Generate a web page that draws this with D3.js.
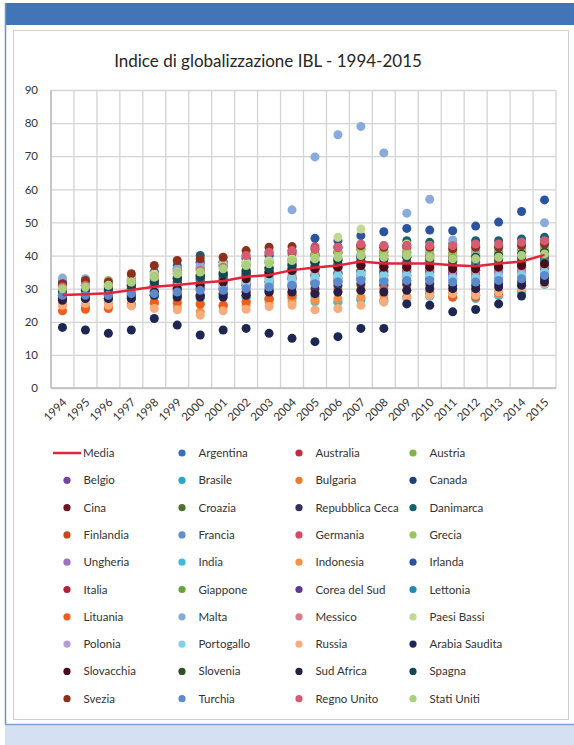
<!DOCTYPE html>
<html>
<head>
<meta charset="utf-8">
<script src="https://cdn.jsdelivr.net/npm/d3@7"></script>
<style>
  html, body { margin: 0; padding: 0; background: #ffffff; }
  svg { display: block; }
  text { font-family: Lato, "Open Sans", sans-serif; }
</style>
</head>
<body>
<svg id="chart" width="574" height="745"></svg>
<script>
// ---------------- DATA ----------------
const years = ["1994","1995","1996","1997","1998","1999","2000","2001","2002","2003","2004",
               "2005","2006","2007","2008","2009","2010","2011","2012","2013","2014","2015"];
const yTicks = [0,10,20,30,40,50,60,70,80,90];
const title = "Indice di globalizzazione IBL - 1994-2015";
const mediaLabel = "Media";
const media = [28.1,28.3,28.6,29.6,30.6,31.1,31.8,32.3,33.6,34.1,35.6,36.4,37.0,38.2,37.6,37.6,37.6,37.1,36.8,37.6,38.2,40.2];

const countries = ["Argentina","Australia","Austria","Belgio","Brasile","Bulgaria","Canada","Cina","Croazia",
  "Repubblica Ceca","Danimarca","Finlandia","Francia","Germania","Grecia","Ungheria","India","Indonesia",
  "Irlanda","Italia","Giappone","Corea del Sud","Lettonia","Lituania","Malta","Messico","Paesi Bassi",
  "Polonia","Portogallo","Russia","Arabia Saudita","Slovacchia","Slovenia","Sud Africa","Spagna","Svezia",
  "Turchia","Regno Unito","Stati Uniti"];

const countryColors = ["#3470BC","#C42A42","#80B548","#7446A2","#2AA6C6","#F07A2C","#22407A","#731624","#4D7232",
  "#3C2C60","#18606F","#C24A1E","#5F8FD0","#D24C68","#9EC460","#9C70C2","#40BAD8","#F59246",
  "#2B54A0","#B22039","#6AA33A","#5C3892","#2089AE","#F05C1A","#88AADC","#DC7C8A","#C2D890",
  "#B29ED2","#80D0E6","#F8AC7C","#1D2752","#4C0E16","#305222","#262048","#104854","#8E301C",
  "#5C8ACC","#D65C74","#AAD07E"];

const values = [
  /* Argentina */      [28,28,28.5,29,30,31,31,30,29,30,31,32,33,34,34,34,35,34,34,35,35,36],
  /* Australia */      [29,29.5,29.5,30,31,32,33,33,34,35,36,37,37.5,38.5,38,38,38.5,38,38,38.5,39,40],
  /* Austria */        [31,31.5,32,33,34.5,35.5,36,37,38,38.5,39,40,41,42,41.5,42,41.5,41,41.5,41.5,42,42.5],
  /* Belgio */         [30,30,30.5,31,32,33,34,35,35.5,36,37,38,39,40,40,40.5,40,39.5,40,40.5,41,41.5],
  /* Brasile */        [27,27.5,27,27.5,28,27,27.5,28,27.5,26.6,27,27.5,26,26.6,26.5,27.5,27.8,28.5,28,28,29,31.3],
  /* Bulgaria */       [25,24.5,24.5,25.5,25.5,25.5,25.5,25,26,27,28,29,30,31,31.5,31,30.5,29,29,29,30,32],
  /* Canada */         [31,31,31.5,32,33,33.5,34,34,34.5,35,35.5,36,36.5,37,37,37,37,36.5,36.5,37,37.5,38],
  /* Cina */           [27,27,27,27.5,28,28,28,28.5,29,29.5,30.5,31.5,32,33,32.5,32.5,33,33,33,33.5,34,35],
  /* Croazia */        [28.5,29,29,30,31,31.5,32.5,33,34,35,36,36.5,37,38,37.5,37.5,37.5,37,37,37.5,38,39],
  /* Repubblica Ceca */[27,27.5,27,27,28,28.5,28,28.5,28,29,29,30,31,31.5,31,31.5,31.5,31,31,31.5,32,33],
  /* Danimarca */      [30,30.5,30.5,32,35,37,40,37,37,38,38.5,40,41,43,43,44.5,44,43.5,44.5,44.5,45,45.5],
  /* Finlandia */      [30.5,31,31,32.5,34,36,38,38,39,40,40.5,40.5,41,42,41,41,40.5,40,40.5,40.5,41,41.5],
  /* Francia */        [29,29,29,29.5,29.5,30,30,30.5,31,31,31.5,32,32.5,33,33,34,34,33,33,33.5,34,35],
  /* Germania */       [30,30.5,30.5,31.5,33,35,36.5,37,39.5,41,41,42.7,42.5,43,42.5,42.5,42.5,42.5,43,43,43.5,44],
  /* Grecia */         [30.5,31,32.5,33.5,34.5,35.5,36,37,38,38.5,39,40,41,42,41,41,40.5,40,40.5,40.5,41,42],
  /* Ungheria */       [27.5,28,28,28.5,29,30,30.5,31,31.5,32,33,34,35,35.5,35,35,35,34.5,34.5,35,35.5,36],
  /* India */          [27,27,26.5,27,27.5,27.5,27,27.5,27,27,27.5,26,26,27,26,27,27.8,27.5,27,28,29,31.5],
  /* Indonesia */      [26,25,25.5,25,25.5,24.5,23,24.5,25,26,26,26.5,27,27.5,28,27.6,28.5,27.5,28,28.5,30,31.8],
  /* Irlanda */        [32,32,32,33,35,36,38,38,39,40,41.5,45.2,44.5,46,47.2,48.2,47.7,47.5,48.9,50.1,53.3,56.8],
  /* Italia */         [28.5,29,29,30,31,32,33,33.5,34.5,35,35.5,36,37,38,37.5,37.5,37.5,37,37,37.5,38,39],
  /* Giappone */       [28,28.5,28.5,29,30,30.5,31,31.5,32,33,33.5,34,34.5,35.5,35.5,36,36,35.5,35.5,36,36.5,37.5],
  /* Corea del Sud */  [27.5,27.5,28,28.5,29,29.5,30,30,31,32,33,34,34.5,35,35,35.5,35.5,35,35.5,36,36.5,37],
  /* Lettonia */       [28,28.5,28.5,29,30.5,31,32,32.5,33,34,35,36,36.5,37,36.5,37,37.5,37,37,37.5,38,38.5],
  /* Lituania */       [23.3,23.8,24,25,26,26,25.3,25,26,27,28,28.5,29,29.5,30,29.5,29,27.5,27.5,28.8,31,33],
  /* Malta */          [33.2,33,32,31,33,36,37,38,40,41,53.8,69.8,76.5,79,71,52.8,57,44.7,42,43,44,49.9],
  /* Messico */        [28,28.5,28.5,29,30,30.5,31,31.5,32.5,33.5,34,35,36,37,36.5,36,36,35.5,35.5,36,36,37],
  /* Paesi Bassi */    [31,31.5,32,33,34.5,35,35.5,37,38,38.5,39,39,45.5,48,43,43.5,43,43,42.5,43,43.5,44],
  /* Polonia */        [27,27.5,27.5,28,28.5,29,29.5,30,30.5,31,32,33,33.5,34.5,34,34,34,33.5,33.5,34,34.5,35],
  /* Portogallo */     [28.5,28.5,29,29.5,30,30.5,31,31.5,32,32.5,33,33.5,34,34.5,34,34,34,33,33,33.5,34,35],
  /* Russia */         [25,25.5,25,24.8,24,23.6,22,23.3,23.8,24.6,25,23.6,24,25,26,27,28,28.5,28,29,30,31.5],
  /* Arabia Saudita */ [18.3,17.5,16.5,17.5,21,19,16,17.5,18,16.5,15,14,15.5,18,18,25.4,25,23,23.7,25.4,27.8,33.4],
  /* Slovacchia */     [27,27.5,27.5,28,29,30,31,32,33,34.5,35.5,36,36.5,37,36.5,36.5,36.5,36,36,36.5,37,37.5],
  /* Slovenia */       [29,29.5,29.5,30.5,32,33,34,34.5,35.5,36.5,37.5,38,38.5,39.5,39,39.5,39,38.5,39,39,39.5,40.5],
  /* Sud Africa */     [26.5,27,27,27,28,27.5,27.5,27.5,28,29,29,28.5,29,29.5,29,29.5,30,30,30,30.5,31,32],
  /* Spagna */         [29.5,30,30,31,32,33,33.5,34.5,35,36,37,38,38.5,39.5,39,39.5,39.5,39,39.5,40,40.5,41],
  /* Svezia */         [31.5,32.5,32,34.5,37,38.5,39,39.5,41.5,42.5,42.7,42,42.5,43,42.5,43,42.5,42,42.5,42.5,43,43.5],
  /* Turchia */        [28,28,28,28.5,28.5,29,29.5,29.5,30,30.5,31,31.5,32,32.5,32,32.5,32.5,32,32,32.5,33,34],
  /* Regno Unito */    [30.5,31,31,32,33.5,34.5,35.5,36.5,40,41,41.5,42,42.5,43.5,43,43,43,43,43.5,43.5,44,44.5],
  /* Stati Uniti */    [30,30.5,31,32,33.5,34.5,35,36,37,37.5,38.5,39,39.5,40,39.5,40,39.5,39,39,39.5,40,40.5]
];

// ---------------- DRAW ----------------
const svg = d3.select("#chart");
const W = 574, H = 745;

// page decoration
svg.append("rect").attr("x", 5).attr("y", 3).attr("width", W - 5).attr("height", 22).attr("fill", "#4274B8");
svg.append("line").attr("x1", 5.5).attr("x2", 5.5).attr("y1", 3).attr("y2", 724).attr("stroke", "#6F93C8").attr("stroke-width", 1.5);
svg.append("rect").attr("x", 13.5).attr("y", 30.5).attr("width", 555).attr("height", 689)
   .attr("fill", "#ffffff").attr("stroke", "#D0D0D0").attr("stroke-width", 1);
svg.append("rect").attr("x", 5).attr("y", 724).attr("width", W - 5).attr("height", H - 724).attr("fill", "#D5E1F2");
svg.append("line").attr("x1", 5).attr("x2", W).attr("y1", 724.5).attr("y2", 724.5).attr("stroke", "#7EA2D2").attr("stroke-width", 1.5);

// title
svg.append("text").attr("x", 268).attr("y", 67).attr("text-anchor", "middle")
   .attr("font-size", 17).attr("fill", "#262626").text(title);

// scales
const plot = { left: 51, right: 556, top: 90, bottom: 388 };
const x = d3.scaleBand().domain(years).range([plot.left, plot.right]).padding(0);
const y = d3.scaleLinear().domain([0, 90]).range([plot.bottom, plot.top]);

const g = svg.append("g");

// horizontal gridlines + y labels via axis
const yAxis = d3.axisLeft(y).tickValues(yTicks).tickSize(-(plot.right - plot.left)).tickPadding(13);
const ya = g.append("g").attr("transform", `translate(${plot.left},0)`).call(yAxis);
ya.select(".domain").remove();
ya.selectAll(".tick line").attr("stroke", "#D4D4D4").attr("stroke-width", 1.3);
ya.selectAll(".tick text").attr("font-family", "Lato, sans-serif").attr("font-size", 11.5).attr("fill", "#333333");

// vertical gridlines at category boundaries
const bounds = years.map(d => x(d)).concat([x(years[years.length - 1]) + x.bandwidth()]);
g.append("g").selectAll("line").data(bounds).join("line")
  .attr("x1", d => d).attr("x2", d => d).attr("y1", plot.top).attr("y2", plot.bottom)
  .attr("stroke", "#D4D4D4").attr("stroke-width", 1.3);

// axis lines
g.append("line").attr("x1", plot.left).attr("x2", plot.right).attr("y1", y(0)).attr("y2", y(0))
  .attr("stroke", "#BDBDBD").attr("stroke-width", 1.5);
g.append("line").attr("x1", plot.left).attr("x2", plot.left).attr("y1", plot.top).attr("y2", plot.bottom)
  .attr("stroke", "#BDBDBD").attr("stroke-width", 1.5);

// x labels via axis
const xAxis = d3.axisBottom(x).tickSize(0).tickPadding(0);
const xa = g.append("g").attr("transform", `translate(0,${plot.bottom})`).call(xAxis);
xa.select(".domain").remove();
xa.selectAll(".tick text")
  .attr("font-family", "Lato, sans-serif").attr("font-size", 11.5).attr("fill", "#333333")
  .attr("text-anchor", "end").attr("dy", 0).attr("y", 0)
  .attr("transform", "translate(5,15) rotate(-45)");

// points
const pts = g.append("g");
countries.forEach((c, i) => {
  pts.append("g").selectAll("circle").data(values[i]).join("circle")
    .attr("cx", (d, j) => x(years[j]) + x.bandwidth() / 2)
    .attr("cy", d => y(d))
    .attr("r", 4.5)
    .attr("fill", countryColors[i]);
});

// media line
const line = d3.line().x((d, j) => x(years[j]) + x.bandwidth() / 2).y(d => y(d));
g.append("path").datum(media).attr("d", line).attr("fill", "none")
  .attr("stroke", "#E3243B").attr("stroke-width", 2.5);

// legend
const colX = [67, 182, 299, 413];
const rowY0 = 453, rowStep = 27.3;
const leg = svg.append("g");
const items = [{ name: mediaLabel, color: "#E3243B", line: true }]
  .concat(countries.map((c, i) => ({ name: c, color: countryColors[i], line: false })));
items.forEach((it, k) => {
  const col = k % 4, row = Math.floor(k / 4);
  const cx = colX[col], cy = rowY0 + row * rowStep;
  if (it.line) {
    leg.append("line").attr("x1", cx - 14).attr("x2", cx + 14).attr("y1", cy).attr("y2", cy)
      .attr("stroke", it.color).attr("stroke-width", 2.5);
  } else {
    leg.append("circle").attr("cx", cx).attr("cy", cy).attr("r", 3.6).attr("fill", it.color);
  }
  leg.append("text").attr("x", cx + (it.line ? 16 : 16.5)).attr("y", cy + 4)
    .attr("font-size", 11.5).attr("fill", "#333333").text(it.name);
});
</script>
</body>
</html>
